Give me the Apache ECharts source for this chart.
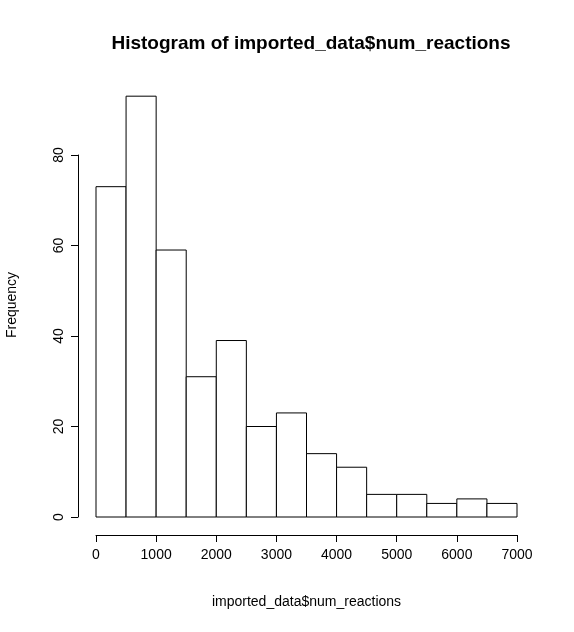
<!DOCTYPE html>
<html>
<head>
<meta charset="utf-8">
<script src="https://cdn.jsdelivr.net/npm/echarts@6/dist/echarts.min.js"></script>
<style>html,body{margin:0;padding:0;background:#fff}#main{width:574px;height:632px}</style>
</head>
<body>
<div id="main"></div>
<script>
// histogram bins (lower edge) and counts
const binStarts = [0, 500, 1000, 1500, 2000, 2500, 3000, 3500, 4000, 4500, 5000, 5500, 6000, 6500]
const binWidth = 500
const counts = [73, 93, 59, 31, 39, 20, 23, 14, 11, 5, 5, 3, 4, 3]
const xTicks = [0, 1000, 2000, 3000, 4000, 5000, 6000, 7000]
const yTicks = [0, 20, 40, 60, 80]

const font = 'Liberation Sans, Arial, sans-serif'
const chart = echarts.init(document.getElementById('main'))

chart.setOption({
  animation: false,
  title: {
    text: 'Histogram of imported_data$num_reactions',
    left: 306, top: 29, textAlign: 'center',
    textStyle: { fontFamily: font, fontSize: 19, fontWeight: 'bold', color: '#000' }
  },
  graphic: [{
    type: 'text', x: 5, y: 305, rotation: Math.PI / 2,
    style: { text: 'Frequency', font: '14px ' + font, fill: '#000', align: 'center', verticalAlign: 'top' }
  }],
  grid: [
    { left: 96, right: 57, top: 155, bottom: 115 },
    { left: 78, width: 1, top: 155, bottom: 115 }
  ],
  xAxis: [
    {
      gridIndex: 0, type: 'value', min: xTicks[0], max: xTicks[xTicks.length - 1], interval: 1000,
      offset: 18,
      name: 'imported_data$num_reactions', nameLocation: 'middle', nameGap: 60,
      nameTextStyle: { fontFamily: font, fontSize: 14, color: '#000' },
      axisLine: { onZero: false, lineStyle: { color: '#000' } },
      axisTick: { length: 7, lineStyle: { color: '#000' } },
      axisLabel: { fontFamily: font, fontSize: 14, color: '#000', margin: 13, formatter: v => String(v) },
      splitLine: { show: false }
    },
    { gridIndex: 1, type: 'value', show: false }
  ],
  yAxis: [
    { gridIndex: 0, type: 'value', min: 0, max: 80, show: false },
    {
      gridIndex: 1, type: 'value', min: yTicks[0], max: yTicks[yTicks.length - 1], interval: 20,
      axisLine: { show: true, lineStyle: { color: '#000' } },
      axisTick: { show: true, length: 7, lineStyle: { color: '#000' } },
      axisLabel: { fontFamily: font, fontSize: 14, color: '#000', rotate: 90, margin: 12 },
      splitLine: { show: false }
    }
  ],
  series: [{
    type: 'custom',
    xAxisIndex: 0, yAxisIndex: 0,
    clip: false,
    data: binStarts.map((s, i) => [s, s + binWidth, counts[i]]),
    renderItem: (params, api) => {
      const p0 = api.coord([api.value(0), 0])
      const p1 = api.coord([api.value(1), api.value(2)])
      return {
        type: 'rect',
        shape: { x: p0[0], y: p1[1], width: p1[0] - p0[0], height: p0[1] - p1[1] },
        style: { fill: '#fff', stroke: '#000', lineWidth: 1 }
      }
    }
  }]
})
</script>
</body>
</html>
